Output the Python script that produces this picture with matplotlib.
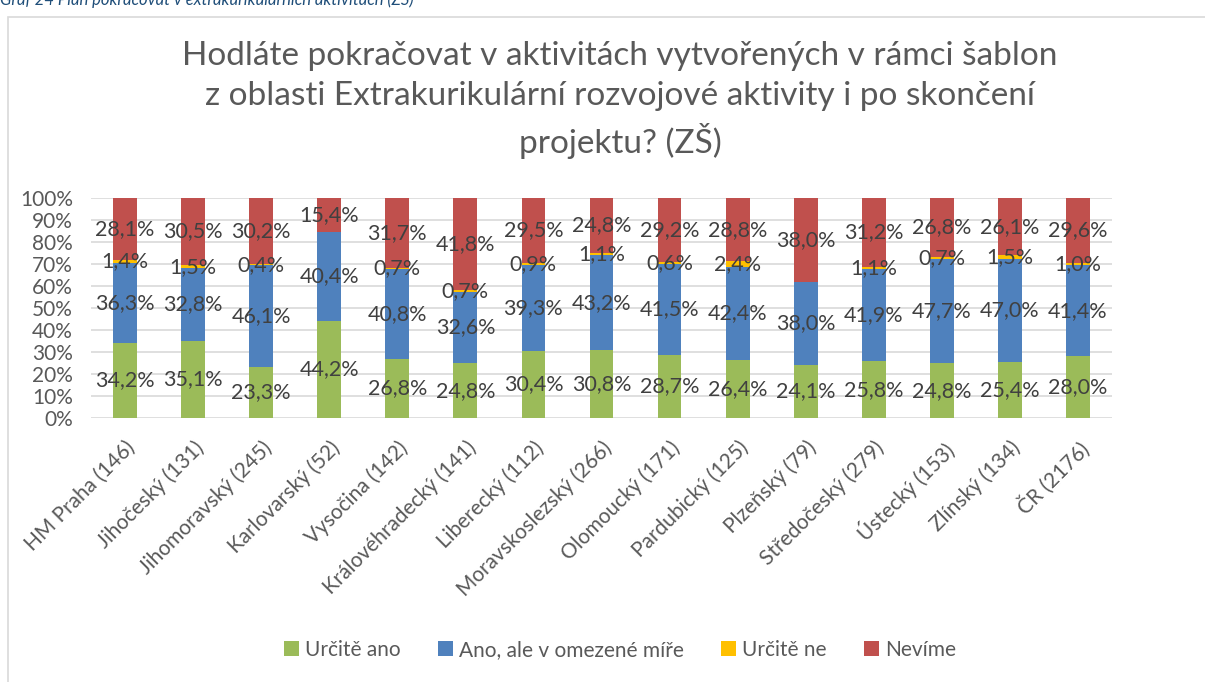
import matplotlib
matplotlib.use("Agg")
import matplotlib.pyplot as plt
from matplotlib.patches import Rectangle
import numpy as np

plt.rcParams['font.family'] = ['Lato', 'DejaVu Sans']

categories = ["HM Praha (146)", "Jihočeský (131)", "Jihomoravský (245)", "Karlovarský (52)",
              "Vysočina (142)", "Královéhradecký (141)", "Liberecký (112)", "Moravskoslezský (266)",
              "Olomoucký (171)", "Pardubický (125)", "Plzeňský (79)", "Středočeský (279)",
              "Ústecký (153)", "Zlínský (134)", "ČR (2176)"]
urcite_ano = [34.2, 35.1, 23.3, 44.2, 26.8, 24.8, 30.4, 30.8, 28.7, 26.4, 24.1, 25.8, 24.8, 25.4, 28.0]
ano_omezene = [36.3, 32.8, 46.1, 40.4, 40.8, 32.6, 39.3, 43.2, 41.5, 42.4, 38.0, 41.9, 47.7, 47.0, 41.4]
urcite_ne = [1.4, 1.5, 0.4, 0.0, 0.7, 0.7, 0.9, 1.1, 0.6, 2.4, 0.0, 1.1, 0.7, 1.5, 1.0]
nevime = [28.1, 30.5, 30.2, 15.4, 31.7, 41.8, 29.5, 24.8, 29.2, 28.8, 38.0, 31.2, 26.8, 26.1, 29.6]

series = [("Určitě ano", urcite_ano, "#9BBB59"),
          ("Ano, ale v omezené míře", ano_omezene, "#4F81BD"),
          ("Určitě ne", urcite_ne, "#FFC000"),
          ("Nevíme", nevime, "#C0504D")]

W, H = 1205, 682
fig = plt.figure(figsize=(W / 100, H / 100), dpi=100)

# outer chart border
fig.patches.append(Rectangle((8 / W, -0.05), 1.1, 1 - 17 / H + 0.05, transform=fig.transFigure,
                             fill=False, edgecolor="#D9D9D9", linewidth=1.2))
# caption (cut off at top, as in the source)
fig.text(0 / W, 1 + 2 / H, "Graf 24 Plán pokračovat v extrakurikulárních aktivitách (ZŠ)",
         fontsize=12, style="italic", color="#1F4E79", ha="left", va="center")

ax = fig.add_axes([91 / W, 1 - 418 / H, (1112 - 91) / W, (418 - 198) / H])
x = np.arange(len(categories))
totals = np.array(urcite_ano) + np.array(ano_omezene) + np.array(urcite_ne) + np.array(nevime)
bottom = np.zeros(len(categories))
for name, vals, col in series:
    v = np.array(vals) / totals
    ax.bar(x, v, 0.35, bottom=bottom, color=col, label=name, zorder=3)
    for xi, b, vi, raw in zip(x, bottom, v, vals):
        if raw > 0:
            ax.text(xi, b + vi / 2, f"{raw:.1f}%".replace(".", ","), ha="center", va="center",
                    fontsize=15.5, color="#404040", zorder=4)
    bottom += v

ax.set_xlim(-0.5, len(categories) - 0.5)
ax.set_ylim(0, 1)
yt = np.arange(0, 1.01, 0.1)
ax.set_yticks(yt)
ax.set_yticklabels([f"{int(round(t * 100))}%" for t in yt], fontsize=15, color="#595959")
ax.yaxis.grid(True, color="#D9D9D9", linewidth=1.2, zorder=0)
ax.set_axisbelow(True)
for s in ax.spines.values():
    s.set_visible(False)
ax.tick_params(axis="both", length=0)
ax.tick_params(axis="y", pad=13)
ax.set_xticks(x)
ax.set_xticklabels(categories, rotation=45, ha="right", va="top", rotation_mode="anchor",
                   fontsize=15, color="#595959")
ax.tick_params(axis="x", pad=14)

fig.text(620 / W, 1 - 100 / H,
         "Hodláte pokračovat v aktivitách vytvořených v rámci šablon\nz oblasti Extrakurikulární rozvojové aktivity i po skončení\nprojektu? (ZŠ)",
         ha="center", va="center", fontsize=24, color="#595959", linespacing=1.42)

handles, labels = ax.get_legend_handles_labels()
fig.legend(handles, labels, loc="center", bbox_to_anchor=(620 / W, 1 - 650 / H), ncol=4,
           frameon=False, fontsize=15, labelcolor="#595959", handlelength=0.7, handleheight=0.7,
           handletextpad=0.3, columnspacing=1.8)

fig.savefig("out.png", dpi=100)
